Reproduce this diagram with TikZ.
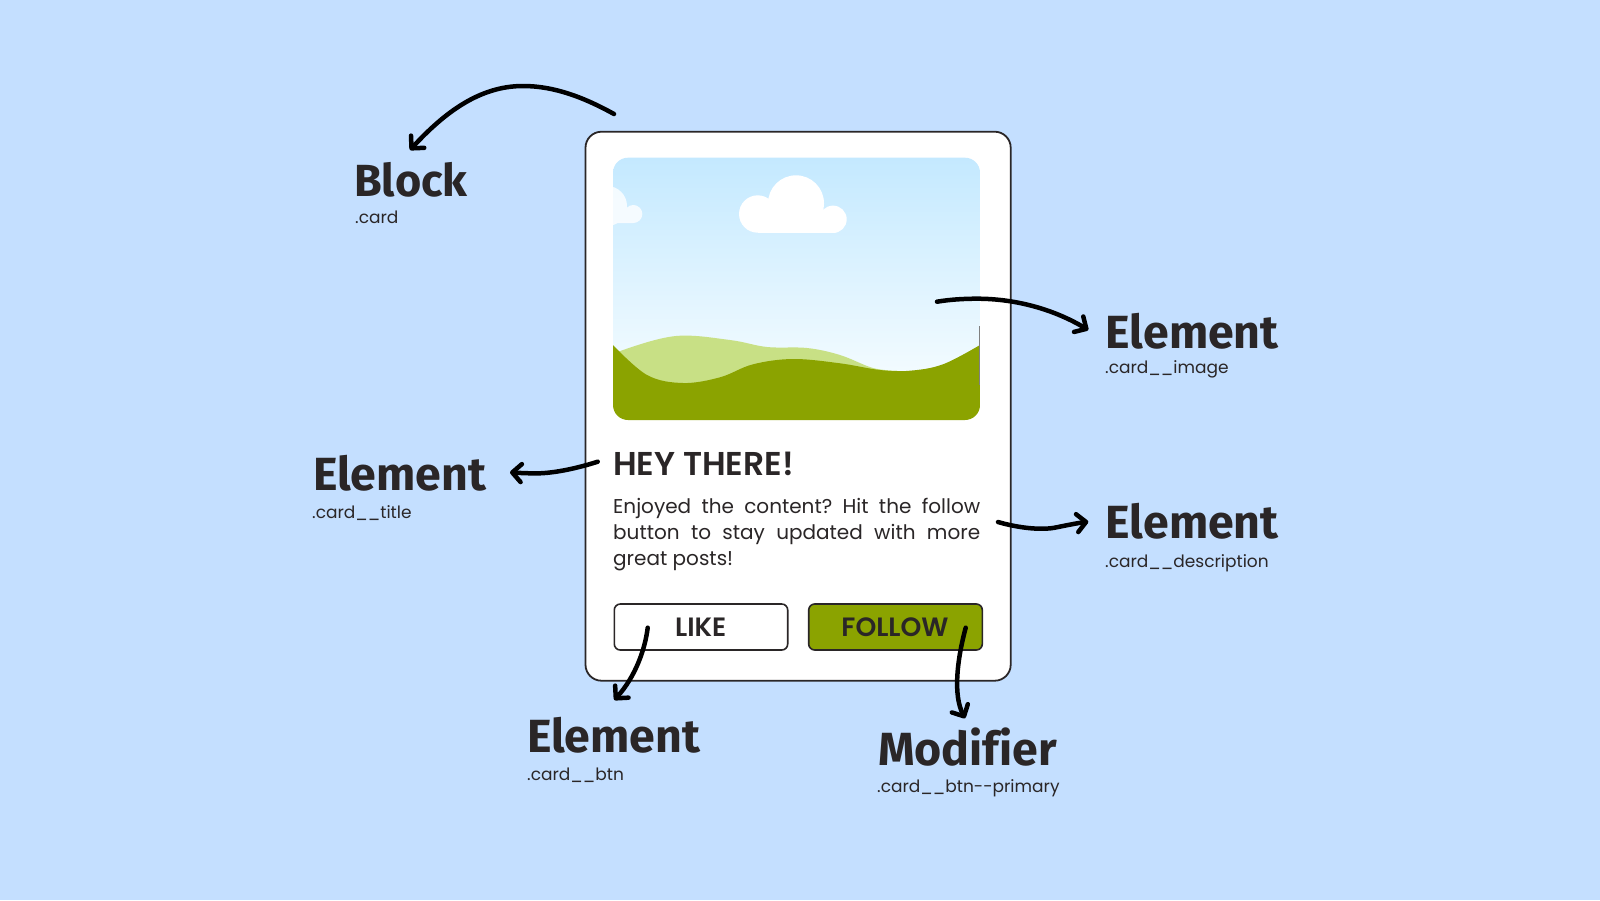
\documentclass[tikz,border=0pt]{standalone}
\usepackage{fontspec}
\usetikzlibrary{arrows.meta}
\setmainfont{Poppins}
\newfontfamily\semifont{Poppins SemiBold}
\newfontfamily\headfont[UprightFont=*-Bold,Ligatures=CommonOff]{Fira Sans}
\definecolor{bgblue}{HTML}{C4DFFF}
\definecolor{inkc}{HTML}{2A2627}
\definecolor{olive}{HTML}{8BA300}
\definecolor{hill}{HTML}{C8E085}
\definecolor{skytop}{HTML}{C4E9FF}
\definecolor{skybot}{HTML}{F2FBFF}
\frenchspacing
\tikzset{
 head/.style={anchor=base west,inner sep=0,font=\headfont\fontsize{46.5}{46.5}\selectfont,text=inkc},
 sub/.style={anchor=base west,inner sep=0,font=\fontsize{17}{17}\selectfont,text=inkc},
 callout/.style={line width=4.5,line cap=round,black,-{Straight Barb[round,length=9,width=18,line width=4.5]}},
 btn/.style={draw=inkc,line width=1.6,rounded corners=6},
 btntext/.style={font=\semifont\fontsize{26.5}{26.5}\selectfont,text=inkc,anchor=base,inner sep=0},
}
\begin{document}
\begin{tikzpicture}[x=1pt,y=-1pt]
\useasboundingbox (0,0) rectangle (1600,900);
\fill[bgblue] (0,0) rectangle (1600,900);
% card
\draw[draw=inkc,fill=white,line width=1.8,rounded corners=16] (585.5,131.7) rectangle (1010.7,680.7);
% image
\begin{scope}
\clip[rounded corners=15] (613,157.7) rectangle (980,420);
\shade[top color=skytop,bottom color=skybot] (613,157.7) rectangle (980,372);
\fill[white] (757.7,214) circle (18.7);
\fill[white] (796,203.3) circle (28);
\fill[white] (833,219.3) circle (13.7);
\fill[white] (757.7,212) rectangle (833,232.7);
\begin{scope}[transparency group,opacity=.8]
\fill[white] (607,206) circle (20);
\fill[white] (633.3,214) circle (9);
\fill[white] (607,214) rectangle (633.3,223);
\end{scope}
\fill[hill] plot[smooth,tension=.6] coordinates {(610,358) (623,350) (676,336) (730,340) (767,347) (807,348) (840,355) (873,368) (897,370.7)} -- (897,400) -- (610,400) -- cycle;
\fill[olive] plot[smooth,tension=.6] coordinates {(613,345) (647,375) (683,383) (720,377.3) (753,364.3) (793,359) (840,363.3) (880,370) (910,370.7) (943,364.3) (980,345)} -- (980,420) -- (613,420) -- cycle;
\end{scope}
\draw[gray,line width=.6] (979.7,326) -- (979.7,385);
% text
\node[anchor=base west,inner sep=0,font=\semifont\fontsize{33}{33}\selectfont,text=inkc] (title) at (613,475) {HEY THERE!};
\node[anchor=north west,inner sep=0,text width=367,align=justify,font=\fontsize{20}{26}\selectfont,text=inkc] (desc) at (613,498) {Enjoyed the content? Hit the follow button to stay updated with more great posts!};
% buttons
\node[btn,fill=white,minimum width=173.4,minimum height=46,inner sep=0] (like) at (701,627) {};
\node[btn,fill=olive,minimum width=173.6,minimum height=46,inner sep=0] (follow) at (895.5,627) {};
\node[btntext] (liket) at (700.7,636.5) {LIKE};
\node[btntext] (followt) at (895,636.5) {FOLLOW};
% labels
\node[head,font=\headfont\fontsize{45}{45}\selectfont] (lblock) at (354,196.7) {Block};
\node[sub] (sblock) at (355,223.4) {.card};
\node[head] (limage) at (1105.5,348.5) {Element};
\node[sub] (simage) at (1105,373.2) {.card\_\_image};
\node[head] (ltitle) at (313,490) {Element};
\node[sub] (stitle) at (312,518.2) {.card\_\_title};
\node[head] (ldesc) at (1105.5,538.5) {Element};
\node[sub] (sdesc) at (1105,567.3) {.card\_\_description};
\node[head] (lbtn) at (527,752.7) {Element};
\node[sub] (sbtn) at (527,780) {.card\_\_btn};
\node[head] (lmod) at (878,765.3) {Modifier};
\node[sub] (smod) at (877,792.2) {.card\_\_btn-{}-primary};
% arrows
\coordinate (a1s) at (614,114); \coordinate (a1m) at (523,86); \coordinate (a1e) at (410,150);
\draw[callout] (a1s) .. controls (585,98) and (555,86) .. (a1m) .. controls (480,86) and (445,112) .. (a1e);
\coordinate (a2s) at (937,301.7); \coordinate (a2m) at (977,298.7); \coordinate (a2e) at (1088.3,330);
\draw[callout] (a2s) .. controls (950,299.5) and (964,298.7) .. (a2m) .. controls (1017,298.7) and (1055,310) .. (a2e);
\coordinate (a3s) at (998,522); \coordinate (a3m) at (1056.7,527.3); \coordinate (a3e) at (1088.3,521.7);
\draw[callout] (a3s) .. controls (1015,527) and (1040,531) .. (a3m) .. controls (1068,525) and (1078,523) .. (a3e);
\coordinate (a4s) at (597.7,461.7); \coordinate (a4m) at (533,473.3); \coordinate (a4e) at (510,472.3);
\draw[callout] (a4s) .. controls (575,469) and (550,474) .. (a4m) .. controls (525,473.3) and (517,472.8) .. (a4e);
\coordinate (a5s) at (647.7,627.7); \coordinate (a5e) at (614.3,700);
\draw[callout] (a5s) .. controls (645,650) and (635,677) .. (a5e);
\coordinate (a6s) at (965.7,627.7); \coordinate (a6e) at (965,718.3);
\draw[callout] (a6s) .. controls (957,660) and (953,695) .. (a6e);
\end{tikzpicture}
\end{document}
